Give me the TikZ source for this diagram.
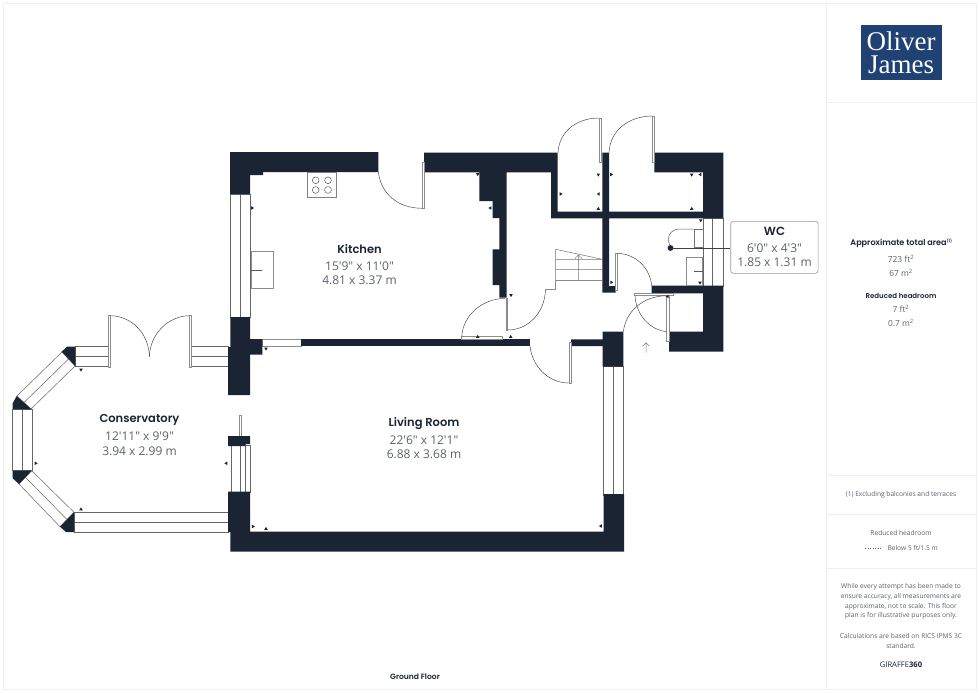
\documentclass[tikz,border=0pt]{standalone}
\usepackage{fontspec}
\setmainfont{Open Sans}[Ligatures=TeXOff]
\newfontfamily\hdfont{Poppins SemiBold}
\newfontfamily\logofont{Liberation Serif}
\definecolor{wall}{HTML}{1B2433}
\definecolor{txt}{HTML}{5C626C}
\definecolor{fr}{HTML}{EFEFEF}
\definecolor{blu}{HTML}{1F4173}
\tikzset{
 wallfill/.style={fill=wall,draw=none},
 winbox/.style={draw=black!60,line width=.5pt,fill=white},
 winline/.style={draw=black!60,line width=.5pt},
 leaf/.style={draw=black!45,fill=white,line width=.6pt},
 swing/.style={draw=black!75,line width=.45pt},
 title/.style={font=\hdfont\fontsize{11.5}{14}\selectfont,text=wall,inner sep=0pt},
 dims/.style={font=\fontsize{12}{14.4}\selectfont,text=txt,align=center,inner sep=0pt},
 small/.style={font=\fontsize{8.4}{14}\selectfont,text=txt,align=center,inner sep=0pt},
 foot/.style={font=\fontsize{6.65}{9.8}\selectfont,text=txt,align=center,inner sep=0pt},
 smallhd/.style={font=\hdfont\fontsize{7}{9}\selectfont,text=wall,inner sep=0pt},
}
\newcommand{\tick}[3]{\fill[wall,shift={(#1,#2)},rotate=#3] (-1.8,1.4)--(1.8,1.4)--(0,-1.6)--cycle;}
\begin{document}
\begin{tikzpicture}[x=1pt,y=-1pt]
\useasboundingbox (0,0) rectangle (980,693);
\fill[white] (0,0) rectangle (980,693);
% frames
\draw[fr,line width=.8pt] (3,3) rectangle (976,689);
\draw[fr,line width=.8pt] (826.5,3)--(826.5,689);
\draw[fr,line width=.8pt] (826.5,102)--(976,102);
\draw[fr,line width=.8pt] (826.5,475)--(976,475);
\draw[fr,line width=.8pt] (826.5,514)--(976,514);
\draw[fr,line width=.8pt] (826.5,568)--(976,568);
% conservatory windows
\draw[winbox] (190,346.7) rectangle (228,366.7); \draw[winline] (190,356.7)--(228,356.7);
\draw[winbox] (75.3,346.7) rectangle (109,366.7); \draw[winline] (75.3,356.7)--(109,356.7);
\draw[winbox] (62,352)--(75,366)--(31,409)--(17,396)--cycle; \draw[winline] (68.5,359)--(24,402.5);
\draw[winbox] (12.7,409) rectangle (32.3,470.7); \draw[winline] (22.3,409)--(22.3,470.7);
\draw[winbox] (31.7,470.7)--(74,512.3)--(60,526.7)--(19,484)--cycle; \draw[winline] (25.5,477.5)--(67,519.5);
\draw[winbox] (74,512.3) rectangle (228,532); \draw[winline] (74,522)--(228,522);
% conservatory corners
\fill[wallfill] (67,346.7)--(75.3,346.7)--(75.3,366)--(61.7,351.7)--cycle;
\fill[wallfill] (12.7,403.3)--(16.7,396)--(31.5,409.3)--(12.7,409.3)--cycle;
\fill[wallfill] (12.7,470.7)--(31.7,470.7)--(19,484)--(12.7,478.3)--cycle;
\fill[wallfill] (74,512.3)--(74,532)--(66,532)--(60,526.7)--cycle;
% french doors
\draw[leaf] (108.6,315.7) rectangle (110.4,367);
\draw[leaf] (189.4,315.7) rectangle (191.2,367);
\draw[swing] (110.4,315.7) .. controls (132,316) and (149,334) .. (149.4,356.7);
\draw[swing] (189.4,315.7) .. controls (168,316) and (150,334) .. (149.4,356.7);
% other windows
\draw[winbox] (230.3,194) rectangle (250,317); \draw[winline] (240.7,194)--(240.7,317);
\draw[winbox] (231,445) rectangle (250,492); \draw[winline] (240,445)--(240,492); \draw[winline] (245.3,445)--(245.3,492);
\draw[winbox] (603.5,366) rectangle (623.5,495); \draw[winline] (613.5,366)--(613.5,495);
\draw[winbox] (703,218) rectangle (723,286); \draw[winline] (712.7,218)--(712.7,286);
\draw[leaf] (262,339.3) rectangle (301,346);
\draw[leaf] (239.6,415) rectangle (241,436);
% walls
\fill[wallfill] (230,152) -- (378.3,152) -- (378.3,172) -- (263,172) -- (263,175) -- (250,175) -- (250,194) -- (230,194) -- cycle;
\fill[wallfill] (230.3,317) -- (250,317) -- (250,339) -- (262.3,339) -- (262.3,354.5) -- (250,354.5) -- (250,395) -- (228,395) -- (228,347) -- (230.3,347) -- cycle;
\fill[wallfill] (228,436) -- (250,436) -- (250,444) -- (245.5,444) -- (245.5,446) -- (228,446) -- cycle;
\fill[wallfill] (228,491.7) -- (250,491.7) -- (250,531.7) -- (603.5,531.7) -- (603.5,494) -- (624,494) -- (624,551.7) -- (230.3,551.7) -- (230.3,532) -- (228,532) -- cycle;
\fill[wallfill] (301,339.3) rectangle (530,346);
\fill[wallfill] (571,339.3) -- (602.7,339.3) -- (602.7,331.7) -- (623.3,331.7) -- (623.3,366.7) -- (602.7,366.7) -- (602.7,346) -- (571,346) -- cycle;
% east kitchen wall, top band, rooms
\fill[wallfill] (424,152.7) -- (557.7,152.7) -- (557.7,211.7) -- (602.3,211.7) -- (602.3,152.7) -- (609,152.7) -- (609,211.7) -- (703,211.7) -- (703,172.3) -- (654.3,172.3) -- (654.3,152.7) -- (723.3,152.7) -- (723.3,218.3) -- (609,218.3) -- (609,286) -- (615.7,286) -- (615.7,292.7) -- (602.3,292.7) -- (602.3,218.3) -- (551,218.3) -- (551,172.3) -- (506.7,172.3) -- (506.7,297.7) -- (499.3,297.7) -- (499.3,285) -- (492.7,285) -- (492.7,249.3) -- (499.3,249.3) -- (499.3,218) -- (492.7,218) -- (492.7,201) -- (479.3,201) -- (479.3,172.3) -- (424,172.3) -- cycle;
\fill[wallfill] (651.7,285.7) -- (723.3,285.7) -- (723.3,351.7) -- (669,351.7) -- (669,331.7) -- (703,331.7) -- (703,293.3) -- (651.7,293.3) -- cycle;
% doors
\draw[leaf] (422.3,162) rectangle (424,208.3);
\draw[swing] (378.3,172) .. controls (381,194) and (398,208.3) .. (422.3,208.3);
\draw[leaf] (599.3,118) rectangle (601,162);
\draw[swing] (558,152.7) .. controls (559,132) and (576,118) .. (599.3,118);
\draw[leaf] (652.7,116) rectangle (654.3,162);
\draw[swing] (609,152.7) .. controls (610,131) and (628,116) .. (652.7,116);
\draw[leaf] (569,342) rectangle (571,383);
\draw[swing] (530,346) .. controls (532,366) and (548,383) .. (569,383);
\draw[leaf] (506,298) rectangle (507.6,330);
\draw[swing] (507.6,330) .. controls (528,330) and (545,313) .. (545.5,289);
\draw[leaf] (461.7,336.7) rectangle (502.7,339);
\draw[swing] (461.7,336.7) .. controls (463,316) and (481,299) .. (505,298.3);
\draw[leaf] (615.7,253.3) rectangle (617.5,290);
\draw[swing] (617.5,253.3) .. controls (636,254) and (650,268) .. (651.7,285.7);
\draw[leaf] (634.3,293.3) rectangle (673.3,295.6);
\draw[leaf] (666.7,295.7) rectangle (669,341.7);
\draw[swing] (623.3,331.7) .. controls (626,311) and (643,296) .. (666.7,295.7);
\draw[swing] (635,295.6) .. controls (636,315) and (650,330) .. (666.7,331.7);
% stairs
\draw[winline,draw=black!55] (555.7,249.3)--(602.3,259.3) (555.7,249.3)--(555.7,280) (555.7,259.3)--(602.3,259.3) (555.7,269.3)--(602.3,269.3) (578.3,255)--(578.3,280);
\draw[leaf,fill=none,line width=.8pt] (602.3,280)--(555.7,280)--(555.7,289)--(546,289);
\draw[winline,line width=.4pt] (575,258.5)--(578.3,255)--(582,258.5);
% hob
\draw[draw=black!50,fill=white,line width=.6pt] (307.3,172) rectangle (336.7,197.7);
\foreach \cx/\cy in {315.7/180.3,328/180.3,315.7/190,328/190}\draw[black!65,line width=.5pt] (\cx,\cy) circle[radius=3.4];
% kitchen sink
\draw[draw=black!45,fill=white,line width=.9pt] (251,251.7) rectangle (273,288.3);
\draw[black!65,line width=.4pt] (251,270)--(262,270);
% WC fittings
\draw[draw=black!45,fill=white,line width=.9pt] (686,257.3) rectangle (702.5,285);
\draw[black!65,line width=.4pt] (694,271)--(702.5,271);
\draw[black!55,line width=.5pt] (694.3,229) rectangle (703,247.7);
\draw[black!65,line width=.5pt] (694.3,229)--(680,229) .. controls (672,229) and (668.5,234) .. (668.5,239) .. controls (668.5,243) and (670,246) .. (671,248);
\draw[black!45,line width=1.1pt] (672,248.6)--(703,248.6);
% arrow
\draw[black!50,line width=.5pt] (646,352.7)--(646,342.7) (642.5,346.3)--(646,342.7)--(649.5,346.3);
% ticks
\tick{252.5}{208}{-90}\tick{266}{349}{180}\tick{477.7}{174.5}{180}\tick{490}{208}{90}\tick{511}{295.5}{180}
\tick{477.7}{336.5}{0}\tick{510.7}{336.5}{0}\tick{561}{194}{-90}\tick{598.3}{175}{180}\tick{598.3}{194}{90}\tick{598.3}{208.5}{0}
\tick{611.5}{174.5}{-90}\tick{691.7}{175}{180}\tick{700}{174.5}{90}\tick{691.7}{208.5}{0}\tick{700.7}{220.7}{180}\tick{611.7}{282.3}{-90}\tick{700}{283}{180}\tick{667.3}{296.5}{90}
\tick{81}{370}{180}\tick{36}{463.3}{-90}\tick{81}{509}{0}\tick{226}{463.3}{90}\tick{253.3}{526.5}{-90}\tick{266}{528.5}{0}\tick{600.5}{526}{90}
% callout
\coordinate (wcdot) at (670.5,248);
\fill[wall] (wcdot) circle[radius=2.9];
\node[draw=black!40,rounded corners=2.5pt,fill=white,line width=.6pt,minimum width=87.3pt,minimum height=52pt,inner sep=0pt] (wcbox) at (774.4,247.3) {};
\draw[black!75,line width=.6pt] (wcdot)--(wcbox.west|-wcdot);
\node[title,font=\hdfont\fontsize{11.8}{14}\selectfont] (wct) at (774.5,231) {WC};
\node[dims] (wcd) at (774.5,255.5) {6'0" x 4'3"\\1.85 x 1.31 m};
% room labels
\node[title] (kt) at (359.5,249) {Kitchen};
\node[dims] (kd) at (359.5,273.2) {15'9" x 11'0"\\4.81 x 3.37 m};
\node[title] (lt) at (424,424) {Living Room};
\node[dims] (ld) at (424,447.3) {22'6" x 12'1"\\6.88 x 3.68 m};
\node[title] (ct) at (139.5,420) {Conservatory};
\node[dims] (cd) at (139.5,443.6) {12'11" x 9'9"\\3.94 x 2.99 m};
\node[smallhd,font=\hdfont\fontsize{7.6}{9}\selectfont] (gf) at (415,676.7) {Ground Floor};
% logo
\node[fill=blu,minimum width=81pt,minimum height=55.5pt,inner sep=0pt,text=white,font=\logofont\fontsize{27}{22.5}\selectfont,align=center] (logo) at (901.2,52.7) {Oliver\\James};
% side panel
\node[smallhd,font=\hdfont\fontsize{8.1}{10}\selectfont] (a1) at (901.5,243) {Approximate total area\textsuperscript{\fontsize{4}{4}\selectfont(1)}};
\node[small] (a2) at (901,265.8) {723 ft\textsuperscript{2}\\67 m\textsuperscript{2}};
\node[smallhd] (a3) at (901,295.5) {Reduced headroom};
\node[small] (a4) at (901,316.3) {7 ft\textsuperscript{2}\\0.7 m\textsuperscript{2}};
\node[foot] (b1) at (901,494.5) {(1) Excluding balconies and terraces};
\node[foot] (b2) at (901,533.5) {Reduced headroom};
\draw[black!60,line width=.5pt,dotted] (865,548)--(882,548);
\node[foot,anchor=west] (b3) at (887.3,548.3) {Below 5 ft/1.5 m};
\node[foot] (c1) at (901,601.5) {While every attempt has been made to\\ensure accuracy, all measurements are\\approximate, not to scale. This floor\\plan is for illustrative purposes only.};
\node[foot] (c2) at (901,640.7) {Calculations are based on RICS IPMS 3C\\standard.};
\node[inner sep=0pt,text=wall,font=\fontsize{7.6}{9}\selectfont] (c3) at (901,664.5) {GIRAFFE\textbf{360}};
\end{tikzpicture}
\end{document}
